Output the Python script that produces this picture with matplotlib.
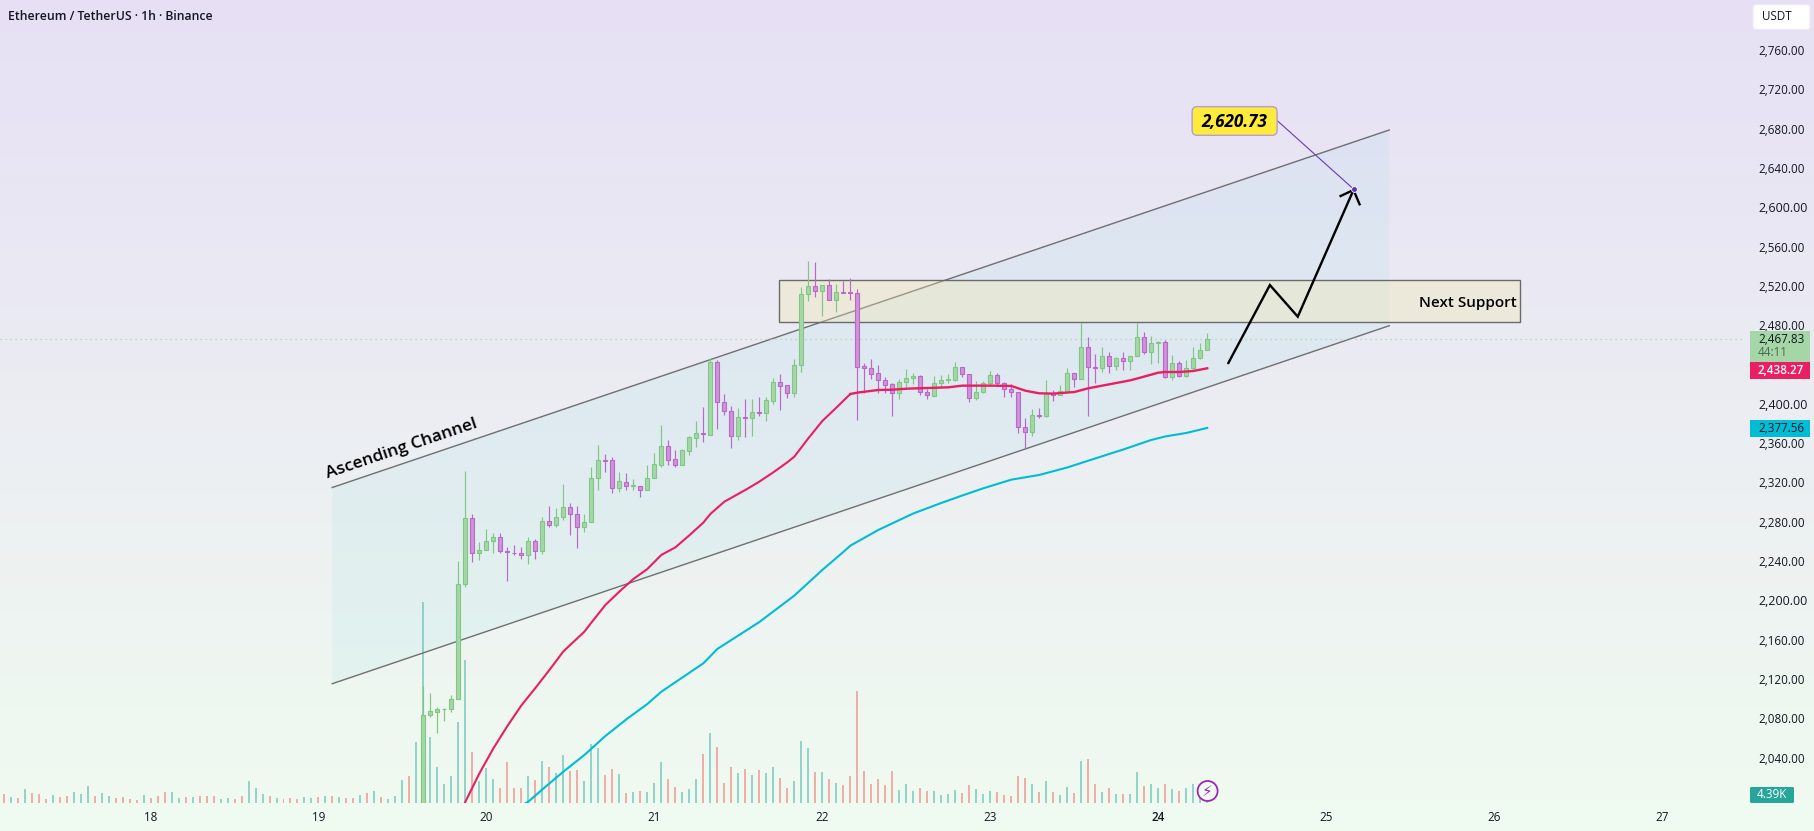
import numpy as np
import matplotlib
matplotlib.use('Agg')
import matplotlib.pyplot as plt
from matplotlib.patches import Polygon, Rectangle, FancyBboxPatch, Circle
from matplotlib.transforms import ScaledTranslation
from matplotlib.colors import LinearSegmentedColormap

# hourly candles, first visible one is 19 Nov 15:00 -> hour 39 counted from day 18
first_hour = 39
opens = [1990, 2085.1, 2088.8, 2091.2, 2091.2, 2101.3, 2218.4, 2285.6, 2249.9, 2253.0,
         2262.1, 2266.2, 2252.0, 2250.6, 2249.9, 2247.9, 2262.1, 2252.0, 2282.5, 2278.4,
         2286.6, 2296.8, 2289.6, 2276.4, 2281.5, 2326.3, 2344.6, 2344.6, 2316.1, 2322.9,
         2318.8, 2318.8, 2314.1, 2326.3, 2340.2, 2358.8, 2345.6, 2340.2, 2354.4, 2367.7,
         2372.1, 2370.7, 2444.3, 2403.6, 2395.1, 2369.7, 2388.4, 2387.3, 2393.5, 2393.1,
         2405.3, 2424.0, 2420.9, 2413.5, 2441.3, 2513.6, 2521.7, 2516.6, 2522.7, 2507.4,
         2515.6, 2515.6, 2514.6, 2440.3, 2438.2, 2433.1, 2426.0, 2421.9, 2412.8, 2424.0,
         2428.1, 2430.1, 2413.8, 2410.4, 2423.0, 2426.7, 2426.7, 2439.3, 2432.1, 2407.7,
         2413.8, 2423.0, 2431.1, 2423.0, 2416.9, 2413.8, 2378.2, 2373.1, 2390.4, 2389.4,
         2412.8, 2410.8, 2414.8, 2433.1, 2427.0, 2459.6, 2439.3, 2438.2, 2450.5, 2440.3,
         2448.4, 2445.4, 2450.5, 2469.8, 2454.5, 2463.7, 2464.7, 2429.1, 2443.3, 2430.1,
         2438.2, 2448.4, 2456.6]
closes = [2085.4, 2089.1, 2091.5, 2091.8, 2101.3, 2218.4, 2285.6, 2249.9, 2253.0, 2262.1,
          2266.2, 2252.0, 2251.6, 2250.3, 2247.9, 2262.1, 2252.0, 2282.5, 2278.4, 2286.6,
          2296.8, 2289.6, 2276.4, 2281.5, 2326.3, 2344.6, 2344.3, 2316.1, 2323.2, 2318.1,
          2319.1, 2314.1, 2326.3, 2340.5, 2358.8, 2345.3, 2340.2, 2354.8, 2368.0, 2372.1,
          2371.7, 2444.3, 2403.6, 2395.1, 2369.7, 2388.4, 2388.0, 2393.5, 2393.1, 2405.7,
          2424.0, 2420.6, 2413.5, 2441.3, 2513.6, 2521.7, 2516.6, 2522.7, 2507.4, 2515.6,
          2515.3, 2515.3, 2439.9, 2438.2, 2432.8, 2426.0, 2421.6, 2412.8, 2424.0, 2428.1,
          2430.1, 2413.8, 2410.8, 2423.0, 2426.0, 2427.0, 2439.3, 2432.1, 2407.7, 2413.8,
          2423.0, 2431.1, 2423.0, 2416.9, 2413.8, 2378.2, 2373.1, 2390.4, 2390.1, 2412.8,
          2410.8, 2414.8, 2433.1, 2427.0, 2459.6, 2439.3, 2438.9, 2450.5, 2440.3, 2448.4,
          2445.4, 2450.5, 2469.8, 2454.5, 2463.7, 2464.7, 2429.1, 2443.3, 2430.1, 2438.2,
          2448.4, 2456.6, 2467.83]
highs = [2114.9, 2107.4, 2093.9, 2092.2, 2105.4, 2242.1, 2333.7, 2290.0, 2261.5, 2274.7,
         2270.6, 2270.6, 2256.7, 2258.1, 2256.7, 2266.2, 2264.2, 2286.6, 2298.1, 2295.7,
         2320.5, 2301.2, 2297.8, 2289.6, 2337.5, 2359.9, 2350.7, 2347.6, 2332.4, 2331.4,
         2325.3, 2318.8, 2339.5, 2351.7, 2380.2, 2365.3, 2354.8, 2355.8, 2369.0, 2384.3,
         2398.9, 2448.4, 2446.7, 2411.8, 2399.9, 2397.5, 2406.7, 2406.7, 2408.7, 2408.7,
         2428.1, 2432.5, 2420.9, 2447.4, 2521.0, 2547.5, 2546.5, 2522.7, 2528.8, 2523.7,
         2527.1, 2529.8, 2518.6, 2443.3, 2447.4, 2441.3, 2429.1, 2423.0, 2427.0, 2437.2,
         2433.1, 2431.1, 2416.9, 2430.1, 2431.1, 2432.1, 2444.3, 2439.9, 2432.1, 2425.0,
         2425.0, 2435.2, 2433.1, 2424.0, 2421.9, 2413.8, 2387.4, 2396.5, 2397.5, 2426.0,
         2415.9, 2420.9, 2438.2, 2433.1, 2484.7, 2469.8, 2452.5, 2459.6, 2454.5, 2449.4,
         2454.5, 2450.5, 2484.7, 2474.9, 2470.8, 2465.7, 2466.7, 2451.5, 2445.4, 2446.4,
         2459.6, 2463.7, 2473.9]
lows = [1985, 2083.0, 2067.4, 2079.6, 2088.8, 2101.3, 2216.0, 2241.5, 2243.2, 2253.0,
        2250.6, 2250.6, 2222.1, 2248.3, 2244.5, 2239.1, 2244.5, 2249.6, 2276.4, 2276.4,
        2283.5, 2268.6, 2255.7, 2272.0, 2281.5, 2314.4, 2333.1, 2311.0, 2312.7, 2314.7,
        2314.4, 2307.6, 2314.1, 2326.3, 2338.2, 2340.2, 2338.2, 2340.2, 2350.0, 2358.5,
        2363.6, 2370.7, 2376.8, 2391.1, 2357.5, 2365.6, 2368.7, 2369.4, 2390.1, 2385.0,
        2402.3, 2396.2, 2408.4, 2409.4, 2434.9, 2507.1, 2511.2, 2491.8, 2507.4, 2495.9,
        2514.6, 2507.4, 2385.6, 2412.8, 2427.7, 2412.8, 2413.5, 2390.1, 2406.7, 2418.9,
        2422.6, 2410.8, 2406.7, 2409.7, 2417.9, 2423.0, 2425.0, 2429.8, 2404.3, 2405.7,
        2412.8, 2420.9, 2420.9, 2408.7, 2409.4, 2372.8, 2356.8, 2369.7, 2387.4, 2388.4,
        2405.3, 2410.8, 2414.8, 2419.6, 2427.0, 2390.1, 2423.0, 2434.2, 2433.5, 2436.2,
        2436.2, 2436.5, 2450.5, 2452.5, 2442.3, 2443.3, 2428.1, 2426.0, 2429.1, 2429.1,
        2437.2, 2447.4, 2456.6]

# volume in thousands, one bar per hour from hour -21 on
early_volume = [45, 30, 25, 70, 50, 45, 20, 40, 30, 35, 55, 45, 85, 35, 50, 35, 25, 30, 20, 15,
                40, 25, 35, 55, 55, 25, 30, 30, 35, 35, 35, 20, 25, 20, 35, 110, 75, 45, 35, 25,
                20, 25, 20, 30, 25, 30, 35, 35, 30, 25, 25, 40, 50, 60, 30, 20, 35, 115, 135, 305]
early_up = [0, 1, 0, 1, 0, 0, 0, 1, 0, 0, 1, 1, 1, 0, 1, 1, 0, 0, 0, 0,
            1, 0, 0, 0, 1, 1, 0, 1, 0, 0, 0, 1, 1, 0, 0, 1, 1, 1, 0, 1,
            0, 0, 0, 1, 1, 0, 1, 0, 1, 0, 0, 1, 0, 1, 0, 1, 1, 1, 0, 1]
candle_volume = [1005, 330, 180, 95, 135, 405, 715, 255, 110, 175, 120, 75, 205, 75, 75, 135, 115,
                 210, 180, 150, 240, 160, 165, 110, 295, 275, 140, 170, 145, 50, 55, 60, 55, 100,
                 205, 120, 80, 55, 70, 120, 245, 350, 280, 100, 180, 150, 170, 140, 165, 150, 180,
                 125, 75, 110, 310, 275, 155, 155, 120, 100, 90, 135, 560, 160, 95, 120, 90, 160,
                 65, 95, 60, 75, 60, 60, 40, 45, 65, 50, 90, 70, 45, 60, 55, 40, 35, 135, 125, 95,
                 55, 110, 55, 40, 80, 50, 210, 220, 95, 55, 75, 45, 45, 45, 155, 85, 95, 75, 95,
                 70, 60, 75, 95, 25, 4.39]

# moving averages, index is candle position
ema_fast_idx = [5, 6, 8, 10, 12, 14, 16, 18, 20, 23, 24, 26, 28, 30, 32, 34, 36, 38, 40, 41, 43, 46,
                48, 50, 52, 53, 55, 57, 59, 61, 62, 65, 67, 69, 72, 75, 77, 81, 84, 86, 88, 90, 93,
                95, 97, 101, 103, 105, 106, 108, 110, 112]
ema_fast = [1980, 1997.2, 2026.0, 2051.5, 2074.2, 2095.2, 2112.9, 2131.2, 2150.2, 2170.2, 2179.4,
            2197.4, 2211.0, 2223.8, 2234.0, 2248.3, 2256.0, 2268.3, 2281.2, 2290.0, 2302.5, 2314.4,
            2322.9, 2332.4, 2342.6, 2348.3, 2367.0, 2384.6, 2398.2, 2412.1, 2413.5, 2416.2, 2416.5,
            2417.5, 2418.2, 2418.9, 2420.6, 2420.6, 2420.3, 2415.5, 2412.8, 2412.5, 2414.1, 2417.9,
            2420.6, 2426.0, 2429.8, 2433.8, 2434.5, 2434.5, 2435.5, 2438.27]
ema_slow_idx = [14, 15, 17, 20, 23, 24, 26, 29, 32, 34, 40, 42, 48, 53, 57, 60, 61, 65, 70, 74, 77, 80,
                84, 88, 92, 96, 100, 104, 106, 109, 112]
ema_slow = [1993, 1997.2, 2009.7, 2027.7, 2044.7, 2051.1, 2064.0, 2081.0, 2096.6, 2109.1, 2138.0,
            2152.6, 2180.0, 2206.9, 2233.0, 2251.3, 2257.7, 2273.7, 2290.5, 2301.2, 2308.8, 2316.1,
            2324.9, 2329.7, 2337.3, 2346.5, 2355.6, 2365.3, 2368.9, 2372.4, 2377.56]

# drawings
channel_days = [19.0815, 25.3756, 25.3756, 19.0815]
channel_prices = [2316.9, 2680.8, 2481.6, 2117.2]
zone_days = [21.745, 26.156]
zone_prices = [2485.1, 2527.8]
path_days = [24.417, 24.665, 24.831, 25.163]
path_prices = [2443.4, 2523.0, 2490.8, 2619.8]
head_days = [25.086, 25.163, 25.199]
head_prices = [2613.6, 2619.8, 2605.2]
target = 2620.73
last_price = 2467.83

price_ticks = [2040, 2080, 2120, 2160, 2200, 2240, 2280, 2320, 2360, 2400, 2480, 2520, 2560,
               2600, 2640, 2680, 2720, 2760]
day_ticks = [18, 19, 20, 21, 22, 23, 24, 25, 26, 27]

W, H = 1815, 831
PLOT_W, PLOT_H = 1745, 803
TEXT = '#131722'
plt.rcParams['font.family'] = ['Open Sans', 'DejaVu Sans']


def main():
    fig = plt.figure(figsize=(W / 100, H / 100), dpi=100)

    # background gradient over the whole picture
    bg = fig.add_axes([0, 0, 1, 1], zorder=0)
    cmap = LinearSegmentedColormap.from_list('bg', ['#e7e0f5', '#f0fbf0'])
    bg.imshow(np.linspace(0, 1, 256).reshape(-1, 1), aspect='auto', cmap=cmap)
    bg.axis('off')

    pos = [0, (H - PLOT_H) / H, PLOT_W / W, PLOT_H / H]

    # volume pane under the price pane
    vol = fig.add_axes(pos, zorder=1)
    vol.patch.set_visible(False)
    vol.axis('off')

    ax = fig.add_axes(pos, zorder=2)
    ax.patch.set_visible(False)
    ax.set_xlim(17.1036, 27.4940)
    ax.set_ylim(1995.8, 2813.13)
    vol.set_xlim(ax.get_xlim())
    vol.set_ylim(0, PLOT_H * 5)
    px_day = 1 / 168

    o, c, h, l = map(np.array, (opens, closes, highs, lows))
    hours = first_hour + np.arange(len(o))
    x = 18 + hours / 24
    up = c >= o

    early_hours = np.arange(-21, first_hour)
    vol_x = np.concatenate([18 + early_hours / 24, x])
    vol_y = np.concatenate([early_volume, candle_volume])
    vol_up = np.concatenate([np.array(early_up, dtype=bool), up])
    vol.bar(vol_x, vol_y, width=2 * px_day,
            color=np.where(vol_up, '#26a69a', '#ef5350'), alpha=0.45, linewidth=0)

    # channel and support zone
    ax.add_patch(Polygon(np.column_stack([channel_days, channel_prices]), closed=True,
                         facecolor='#55d0e0', alpha=0.075, edgecolor='none', zorder=1))
    ax.plot(channel_days[:2], channel_prices[:2], color='#6f6f6f', lw=1.0, zorder=2)
    ax.plot(channel_days[3:1:-1], channel_prices[3:1:-1], color='#6f6f6f', lw=1.0, zorder=2)
    ax.add_patch(Rectangle((zone_days[0], zone_prices[0]), zone_days[1] - zone_days[0],
                           zone_prices[1] - zone_prices[0], facecolor='#f5e9a8', alpha=0.32,
                           edgecolor='none', zorder=2))
    ax.add_patch(Rectangle((zone_days[0], zone_prices[0]), zone_days[1] - zone_days[0],
                           zone_prices[1] - zone_prices[0], fill=False, edgecolor='#6a6a6a',
                           lw=1.0, zorder=3))

    # last price line
    ax.axhline(last_price, color='#a5d6a7', lw=0.9, ls=(0, (1, 3)), zorder=2)

    # candles
    up_face, up_edge = '#a5d6a7', '#81c784'
    dn_face, dn_edge = '#ce93d8', '#ba68c8'
    ax.vlines(x, l, h, colors=np.where(up, up_edge, dn_edge), lw=0.85, zorder=4)
    ax.bar(x, np.abs(c - o), bottom=np.minimum(o, c), width=4 * px_day,
           color=np.where(up, up_face, dn_face), edgecolor=np.where(up, up_edge, dn_edge),
           linewidth=0.8, zorder=5)

    # moving averages, the fast one reads thicker on its flat stretch
    fast_x = 18 + (first_hour + np.array(ema_fast_idx)) / 24
    split = ema_fast_idx.index(61)
    ax.plot(fast_x[:split + 1], ema_fast[:split + 1], color='#e91e63', lw=1.5, zorder=6)
    ax.plot(fast_x[split:], ema_fast[split:], color='#e91e63', lw=1.7, zorder=6)
    ax.plot(18 + (first_hour + np.array(ema_slow_idx)) / 24, ema_slow, color='#00bcd4', lw=1.5, zorder=6)

    # hand drawn projection
    ax.plot(path_days, path_prices, color='black', lw=1.7, solid_capstyle='round',
            solid_joinstyle='miter', zorder=7)
    ax.plot(head_days, head_prices, color='black', lw=1.7, solid_joinstyle='miter', zorder=7)

    # target callout
    tx, ty = 24.455, 2690.0
    ax.plot([tx + 0.256, 25.163], [ty, target], color='#673ab7', lw=0.8, zorder=7)
    ax.plot([25.163], [target], 'o', ms=4.2, mfc='#5e35b1', mec='white', mew=0.6, zorder=8)
    ax.add_patch(FancyBboxPatch((tx - 0.253, ty - 14.6), 0.506, 29.2,
                                boxstyle='round,pad=0,rounding_size=0.03', mutation_aspect=171,
                                facecolor='#ffeb3b', edgecolor='#b39ddb', lw=1.0, zorder=8))
    ax.text(tx, ty - 1, '2,620.73', ha='center', va='center', fontsize=12.3, fontweight='bold',
            fontstyle='italic', color='black', zorder=9)

    ax.text(26.136, 2505, 'Next Support', ha='right', va='center', fontsize=11, fontweight='semibold',
            color='black', zorder=9)
    ax.text(19.056, 2326.6, 'Ascending Channel', rotation=18.7, rotation_mode='anchor', ha='left',
            va='baseline', fontsize=12.4, fontweight='semibold', color='black', zorder=9)

    # axes, no frame or grid
    for s in ax.spines.values():
        s.set_visible(False)
    ax.tick_params(length=0)
    ax.yaxis.tick_right()
    ax.set_yticks(price_ticks)
    ax.set_yticklabels([f'{p:,.2f}' for p in price_ticks])
    ax.tick_params(axis='y', pad=9.4, labelsize=8.4, labelcolor=TEXT)
    ax.set_xticks(day_ticks)
    ax.set_xticklabels([str(d) for d in day_ticks])
    ax.tick_params(axis='x', pad=6, labelsize=8.4, labelcolor=TEXT)
    shift = ScaledTranslation(0, 2 / 100, fig.dpi_scale_trans)
    for p, lab in zip(price_ticks, ax.get_yticklabels()):
        lab.set_transform(lab.get_transform() + shift)
        if p in (2200, 2400, 2600):
            lab.set_fontsize(9)
    ax.get_xticklabels()[day_ticks.index(24)].set_fontweight('semibold')

    # overlay in pixel style coordinates for header and price scale badges
    ov = fig.add_axes([0, 0, 1, 1], zorder=3)
    ov.set_xlim(0, W)
    ov.set_ylim(H, 0)
    ov.axis('off')
    ov.text(8, 16.5, 'Ethereum / TetherUS · 1h · Binance', ha='left', va='center', fontsize=8.8,
            fontweight='semibold', color=TEXT)
    ov.add_patch(FancyBboxPatch((1753, 4.5), 57, 25, boxstyle='round,pad=0,rounding_size=3',
                                facecolor='white', edgecolor='#efeaf7', lw=0.8))
    ov.text(1762, 17, 'USDT', ha='left', va='center', fontsize=8.4, color=TEXT)

    ov.add_patch(Rectangle((1750, 331), 60, 31, facecolor='#a5d6a7', edgecolor='none'))
    ov.text(1758, 339.5, f'{last_price:,.2f}', ha='left', va='center', fontsize=8.4, color=TEXT)
    ov.text(1758, 353, '44:11', ha='left', va='center', fontsize=8.4, color='#4c6b50')
    ov.add_patch(Rectangle((1750, 362), 60, 17, facecolor='#e91e63', edgecolor='none'))
    ov.text(1758, 370, f'{ema_fast[-1]:,.2f}', ha='left', va='center', fontsize=8.4, color='white',
            fontweight='semibold')
    ov.add_patch(Rectangle((1750, 420), 60, 17, facecolor='#00bcd4', edgecolor='none'))
    ov.text(1758, 428, f'{ema_slow[-1]:,.2f}', ha='left', va='center', fontsize=8.4, color=TEXT)
    ov.add_patch(FancyBboxPatch((1750, 787), 44, 16, boxstyle='round,pad=0,rounding_size=1.5',
                                facecolor='#26a69a', edgecolor='none'))
    ov.text(1772, 795, '4.39K', ha='center', va='center', fontsize=8.4, color='white')

    # lightning badge at the last bar
    ov.add_patch(Circle((1207.6, 791), 10, facecolor='#f1f9f2', edgecolor='#9c27b0', lw=1.3))
    ov.text(1207.6, 791, '⚡', ha='center', va='center', fontsize=11, color='#9c27b0',
            family=['DejaVu Sans'])

    fig.savefig('out.png', dpi=100)


if __name__ == '__main__':
    main()
